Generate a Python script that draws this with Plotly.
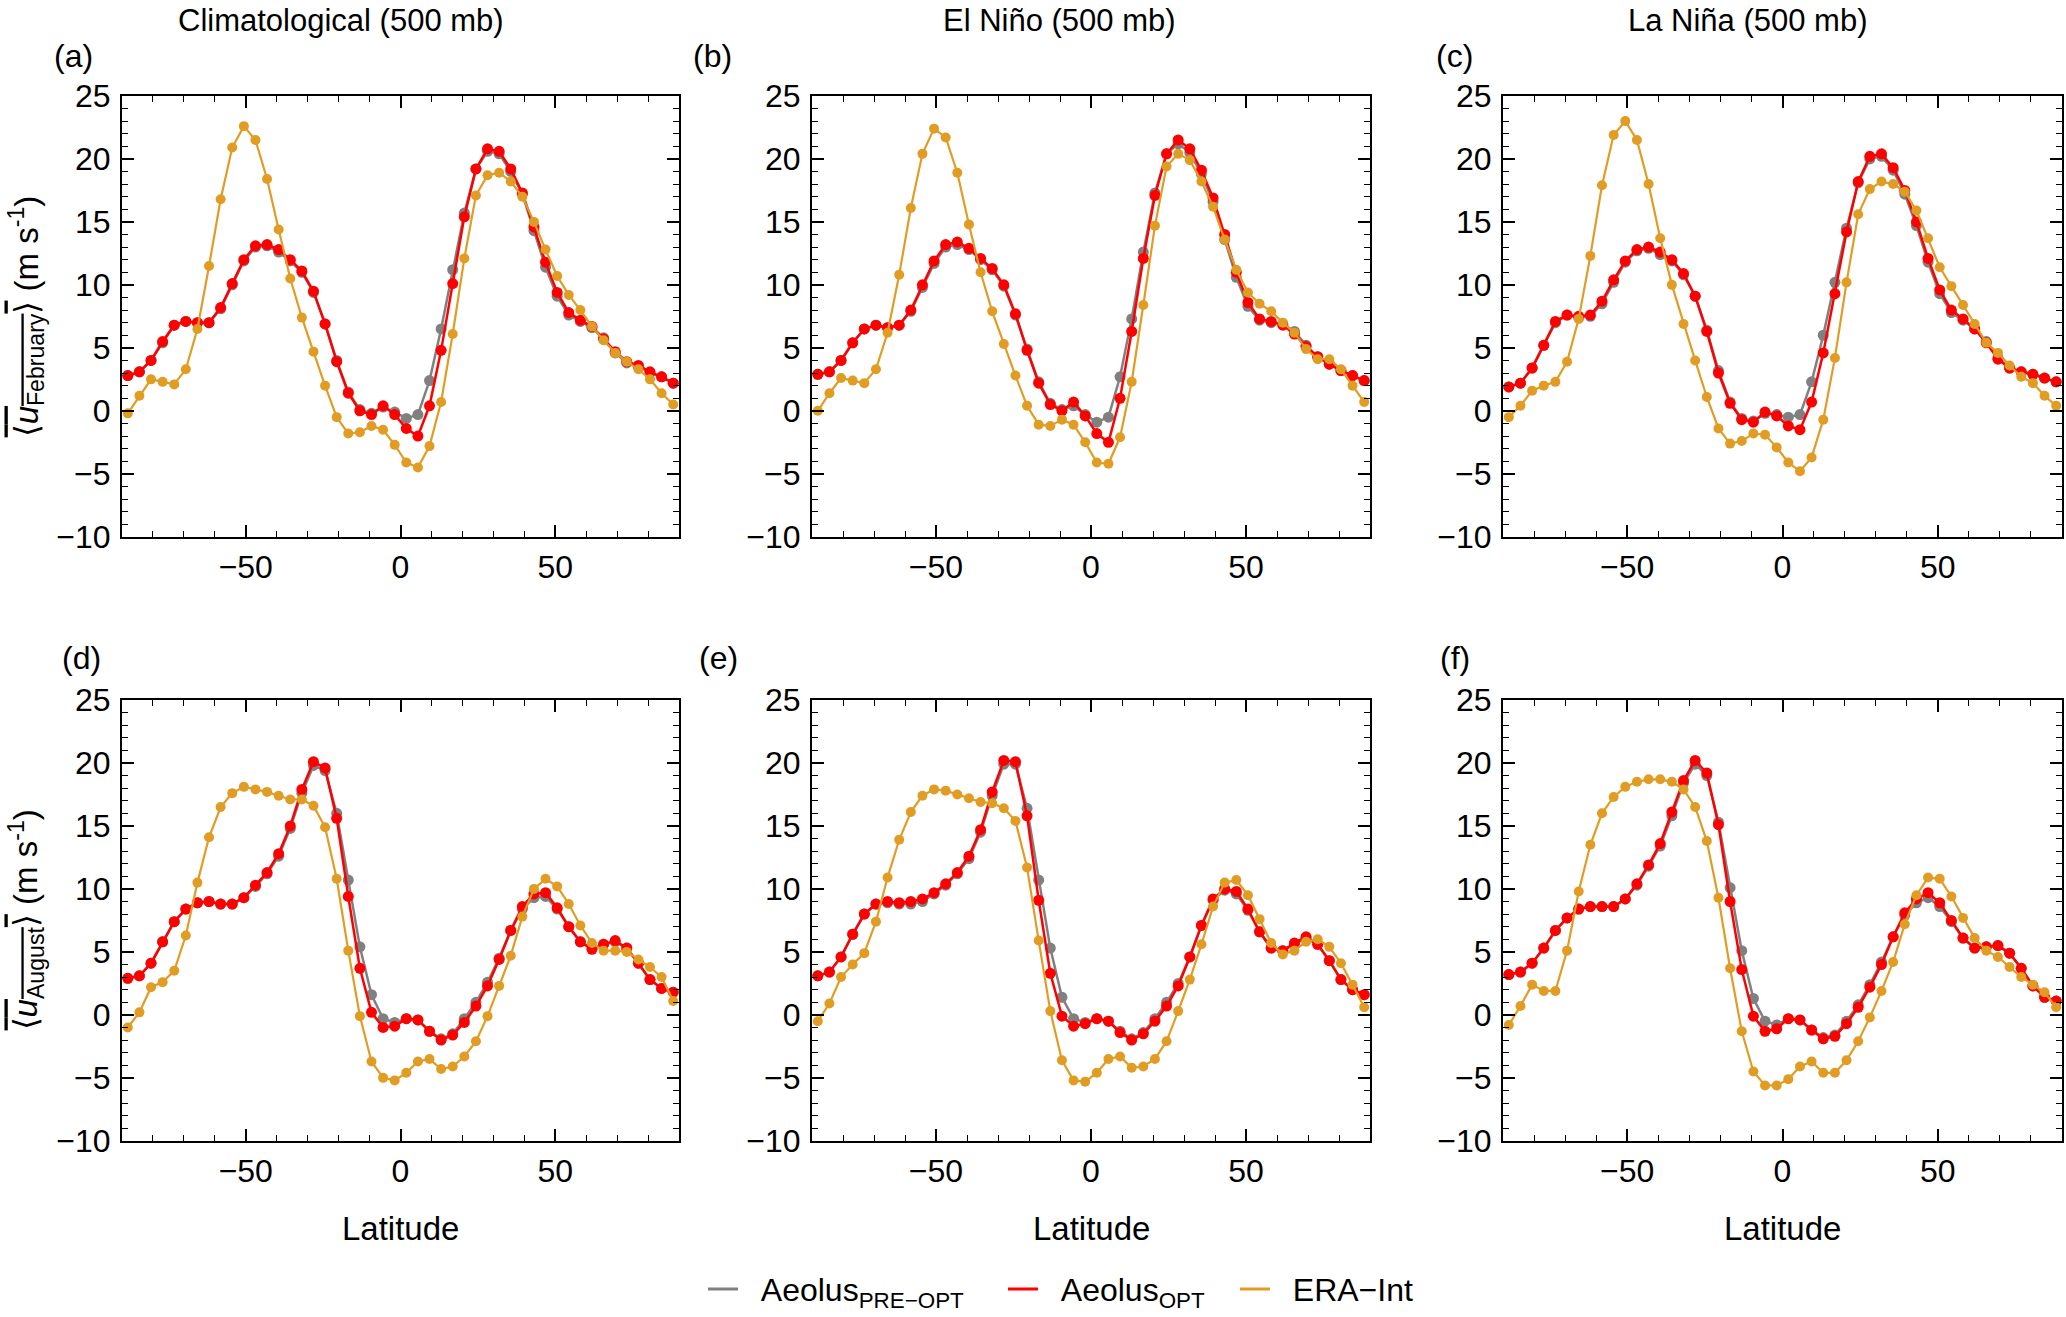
import plotly.graph_objects as go
from plotly.subplots import make_subplots

# latitude grid (deg)
lat = [-88.125, -84.375, -80.625, -76.875, -73.125, -69.375, -65.625, -61.875,
       -58.125, -54.375, -50.625, -46.875, -43.125, -39.375, -35.625, -31.875,
       -28.125, -24.375, -20.625, -16.875, -13.125, -9.375, -5.625, -1.875,
       1.875, 5.625, 9.375, 13.125, 16.875, 20.625, 24.375, 28.125,
       31.875, 35.625, 39.375, 43.125, 46.875, 50.625, 54.375, 58.125,
       61.875, 65.625, 69.375, 73.125, 76.875, 80.625, 84.375, 88.125]

# (a) February, climatological
feb_clim_pre = [2.8, 3.1, 4.0, 5.4, 6.8, 7.1, 7.0, 7.0, 8.1, 10.0, 11.9, 13.0, 13.1, 12.6, 11.9, 11.0,
                9.4, 6.9, 4.0, 1.5, 0.1, -0.2, 0.3, -0.1, -0.6, -0.3, 2.4, 6.5, 11.2, 15.7, 19.2, 20.6,
                20.4, 19.0, 17.2, 14.3, 11.4, 9.1, 7.6, 7.1, 6.6, 5.8, 4.6, 3.8, 3.5, 3.0, 2.7, 2.2]
feb_clim_opt = [2.8, 3.1, 4.0, 5.5, 6.8, 7.1, 7.0, 7.0, 8.2, 10.1, 12.0, 13.1, 13.2, 12.8, 12.0, 11.1,
                9.5, 6.9, 3.9, 1.4, 0.0, -0.3, 0.4, -0.3, -1.4, -2.0, 0.4, 4.8, 10.1, 15.4, 19.2, 20.8,
                20.6, 19.2, 17.3, 14.6, 11.8, 9.4, 7.8, 7.2, 6.7, 5.7, 4.7, 3.9, 3.6, 3.1, 2.7, 2.2]
feb_clim_era = [-0.2, 1.2, 2.5, 2.3, 2.1, 3.3, 6.5, 11.5, 16.8, 20.9, 22.6, 21.5, 18.4, 14.4, 10.5, 7.4,
                4.7, 2.0, -0.5, -1.8, -1.7, -1.2, -1.5, -2.7, -4.1, -4.5, -2.8, 0.7, 6.1, 12.1, 17.1, 18.7,
                18.9, 18.2, 17.0, 15.0, 12.8, 10.7, 9.2, 8.0, 6.7, 5.6, 4.6, 3.9, 3.3, 2.5, 1.4, 0.5]

# (b) February, El Nino
feb_nino_pre = [2.9, 3.1, 4.0, 5.4, 6.5, 6.8, 6.6, 6.8, 7.9, 9.8, 11.7, 13.0, 13.2, 12.8, 12.0, 11.2,
                9.9, 7.6, 4.9, 2.3, 0.6, 0.1, 0.4, -0.3, -0.9, -0.5, 2.7, 7.3, 12.6, 17.3, 20.4, 21.2,
                20.5, 18.8, 16.6, 13.6, 10.6, 8.3, 7.2, 7.0, 6.9, 6.3, 5.2, 4.3, 3.7, 3.2, 2.8, 2.4]
feb_nino_opt = [2.9, 3.1, 4.0, 5.4, 6.5, 6.8, 6.6, 6.8, 8.0, 10.0, 11.9, 13.2, 13.4, 12.9, 12.1, 11.3,
                10.0, 7.7, 4.8, 2.2, 0.5, 0.0, 0.7, -0.4, -1.8, -2.5, 1.0, 6.3, 12.1, 17.1, 20.4, 21.5,
                20.8, 19.1, 16.9, 14.0, 11.0, 8.6, 7.3, 7.1, 6.8, 6.1, 5.1, 4.3, 3.7, 3.2, 2.8, 2.4]
feb_nino_era = [0.0, 1.4, 2.6, 2.4, 2.2, 3.3, 6.2, 10.8, 16.1, 20.4, 22.4, 21.7, 18.9, 14.8, 11.0, 7.9,
                5.3, 2.8, 0.4, -1.1, -1.2, -0.7, -1.1, -2.5, -4.1, -4.2, -2.1, 2.3, 8.4, 14.7, 19.4, 20.4,
                19.9, 18.2, 16.2, 13.6, 11.2, 9.4, 8.5, 7.9, 7.0, 6.2, 4.9, 4.1, 4.1, 3.3, 2.0, 0.7]

# (c) February, La Nina
feb_nina_pre = [1.9, 2.2, 3.4, 5.2, 7.0, 7.6, 7.4, 7.5, 8.5, 10.2, 11.8, 12.7, 12.9, 12.4, 11.9, 10.8,
                9.1, 6.4, 3.2, 0.7, -0.6, -0.8, -0.2, -0.3, -0.5, -0.3, 2.3, 6.0, 10.2, 14.5, 18.1, 20.0,
                20.2, 19.1, 17.2, 14.7, 11.8, 9.3, 7.8, 7.2, 6.5, 5.5, 4.2, 3.4, 3.1, 2.9, 2.6, 2.3]
feb_nina_opt = [1.9, 2.2, 3.4, 5.2, 7.1, 7.6, 7.5, 7.6, 8.7, 10.4, 11.9, 12.8, 13.0, 12.6, 12.0, 10.9,
                9.1, 6.3, 3.0, 0.6, -0.7, -0.9, -0.1, -0.4, -1.2, -1.5, 0.7, 4.6, 9.3, 14.2, 18.2, 20.2,
                20.4, 19.3, 17.5, 15.0, 12.1, 9.6, 8.0, 7.3, 6.5, 5.4, 4.1, 3.4, 3.1, 2.9, 2.6, 2.3]
feb_nina_era = [-0.5, 0.4, 1.6, 2.0, 2.3, 3.9, 7.3, 12.3, 17.9, 21.9, 23.0, 21.5, 18.0, 13.7, 10.0, 6.9,
                4.0, 1.1, -1.4, -2.6, -2.4, -1.8, -1.9, -2.9, -4.1, -4.8, -3.7, -0.7, 4.2, 10.2, 15.6, 17.6,
                18.2, 18.0, 17.4, 15.9, 13.7, 11.4, 9.9, 8.4, 6.9, 5.4, 4.6, 3.6, 2.7, 2.2, 1.2, 0.4]

# (d) August, climatological
aug_clim_pre = [2.9, 3.1, 4.1, 5.8, 7.4, 8.4, 8.9, 9.0, 8.8, 8.8, 9.3, 10.2, 11.2, 12.6, 14.8, 17.6,
                19.8, 19.4, 16.0, 10.7, 5.4, 1.6, -0.3, -0.6, -0.3, -0.4, -1.3, -1.9, -1.5, -0.3, 1.0, 2.6,
                4.5, 6.7, 8.4, 9.3, 9.4, 8.4, 7.0, 5.8, 5.3, 5.6, 5.8, 5.3, 4.1, 2.8, 2.1, 1.8]
aug_clim_opt = [2.9, 3.1, 4.1, 5.8, 7.4, 8.4, 8.9, 9.0, 8.8, 8.8, 9.3, 10.3, 11.3, 12.8, 15.0, 17.9,
                20.1, 19.6, 15.6, 9.4, 3.7, 0.2, -1.0, -0.9, -0.3, -0.4, -1.3, -2.0, -1.6, -0.6, 0.7, 2.3,
                4.4, 6.7, 8.6, 9.6, 9.7, 8.5, 7.0, 5.8, 5.2, 5.6, 5.9, 5.3, 4.1, 2.8, 2.1, 1.8]
aug_clim_era = [-1.0, 0.2, 2.2, 2.6, 3.5, 6.3, 10.5, 14.1, 16.5, 17.6, 18.1, 17.9, 17.7, 17.4, 17.1, 17.1,
                16.6, 14.9, 10.8, 5.1, -0.1, -3.7, -5.0, -5.2, -4.6, -3.7, -3.5, -4.3, -4.1, -3.3, -2.1, -0.1,
                2.3, 4.7, 7.8, 10.0, 10.8, 10.2, 8.8, 7.1, 5.7, 5.1, 5.1, 5.0, 4.4, 3.8, 3.0, 1.1]

# (e) August, El Nino
aug_nino_pre = [3.1, 3.4, 4.6, 6.4, 8.0, 8.8, 8.9, 8.8, 8.8, 9.0, 9.6, 10.3, 11.2, 12.4, 14.5, 17.4,
                19.9, 19.9, 16.4, 10.7, 5.3, 1.4, -0.3, -0.6, -0.3, -0.5, -1.3, -1.9, -1.4, -0.3, 1.0, 2.5,
                4.6, 7.1, 9.1, 9.9, 9.6, 8.3, 6.6, 5.3, 5.1, 5.6, 6.1, 5.6, 4.3, 2.8, 2.0, 1.6]
aug_nino_opt = [3.1, 3.4, 4.6, 6.4, 8.0, 8.8, 9.0, 8.9, 9.0, 9.2, 9.7, 10.4, 11.3, 12.6, 14.7, 17.7,
                20.2, 20.1, 15.8, 9.1, 3.3, -0.1, -0.9, -0.7, -0.3, -0.5, -1.4, -2.0, -1.5, -0.5, 0.7, 2.3,
                4.6, 7.1, 9.2, 10.0, 9.8, 8.4, 6.6, 5.3, 5.1, 5.7, 6.2, 5.6, 4.3, 2.8, 2.0, 1.6]
aug_nino_era = [-0.5, 0.9, 3.0, 4.0, 4.9, 7.4, 10.9, 13.9, 16.1, 17.4, 17.9, 17.8, 17.5, 17.2, 16.9, 16.8,
                16.4, 15.4, 11.7, 5.9, 0.3, -3.6, -5.2, -5.3, -4.6, -3.5, -3.3, -4.2, -4.1, -3.5, -2.1, 0.3,
                2.8, 5.6, 8.6, 10.5, 10.7, 9.5, 7.6, 5.7, 4.8, 5.1, 5.8, 6.0, 5.4, 4.1, 2.4, 0.6]

# (f) August, La Nina
aug_nina_pre = [3.2, 3.4, 4.1, 5.3, 6.7, 7.7, 8.4, 8.6, 8.6, 8.6, 9.2, 10.3, 11.8, 13.4, 15.8, 18.4,
                19.9, 19.0, 15.3, 10.1, 5.1, 1.3, -0.5, -0.8, -0.3, -0.4, -1.2, -1.8, -1.6, -0.5, 0.8, 2.4,
                4.2, 6.2, 7.9, 8.9, 9.3, 8.6, 7.4, 6.1, 5.3, 5.4, 5.5, 4.9, 3.7, 2.3, 1.4, 1.1]
aug_nina_opt = [3.2, 3.4, 4.1, 5.3, 6.7, 7.7, 8.4, 8.6, 8.6, 8.6, 9.2, 10.4, 11.9, 13.6, 16.1, 18.6,
                20.2, 19.2, 15.1, 9.0, 3.6, -0.1, -1.3, -1.1, -0.3, -0.4, -1.2, -1.9, -1.7, -0.7, 0.6, 2.2,
                4.0, 6.2, 8.1, 9.2, 9.7, 8.9, 7.5, 6.1, 5.3, 5.4, 5.5, 4.9, 3.7, 2.3, 1.4, 1.1]
aug_nina_era = [-0.8, 0.7, 2.4, 1.9, 1.9, 5.1, 9.8, 13.5, 16.0, 17.3, 18.1, 18.5, 18.7, 18.7, 18.5, 17.9,
                16.5, 13.8, 9.3, 3.7, -1.3, -4.5, -5.6, -5.6, -5.1, -4.1, -3.7, -4.6, -4.6, -3.6, -2.1, -0.2,
                1.9, 4.2, 7.2, 9.5, 10.9, 10.8, 9.4, 7.7, 6.1, 5.1, 4.6, 3.8, 3.0, 2.4, 1.8, 0.6]

col_titles = ["Climatological (500 mb)", "El Niño (500 mb)", "La Niña (500 mb)"]
panel_tags = ["(a)", "(b)", "(c)", "(d)", "(e)", "(f)"]
series_names = ["Aeolus<sub>PRE−OPT</sub>", "Aeolus<sub>OPT</sub>", "ERA−Int"]

panels = [
    (feb_clim_pre, feb_clim_opt, feb_clim_era),
    (feb_nino_pre, feb_nino_opt, feb_nino_era),
    (feb_nina_pre, feb_nina_opt, feb_nina_era),
    (aug_clim_pre, aug_clim_opt, aug_clim_era),
    (aug_nino_pre, aug_nino_opt, aug_nino_era),
    (aug_nina_pre, aug_nina_opt, aug_nina_era),
]

GRAY = "#808080"
RED = "#FF0000"
ORANGE = "#E19C24"
colors = [GRAY, RED, ORANGE]
msize = [11, 11, 10]
lwidth = [2.5, 2.5, 2.2]

W, H = 2066, 1317
FONT = "Liberation Sans, Arial, sans-serif"

# panel frames in pixels
col_px = [(122, 679), (812, 1370), (1503, 2062)]
row_px = [(97, 543), (708, 1154)]

fig = make_subplots(rows=2, cols=3)

for i, series in enumerate(panels):
    r, c = i // 3 + 1, i % 3 + 1
    for j, vals in enumerate(series):
        fig.add_trace(go.Scatter(x=lat, y=vals, mode="lines+markers",
                                 line=dict(color=colors[j], width=lwidth[j]),
                                 marker=dict(color=colors[j], size=msize[j]),
                                 showlegend=False, hoverinfo="skip"),
                      row=r, col=c)

# legend entries (line only, like the original), one legend box each
legend_ids = ["legend", "legend2", "legend3"]
legend_left = [703, 1003, 1235]
for j in range(3):
    fig.add_trace(go.Scatter(x=[None], y=[None], mode="lines",
                             name="\u00a0\u00a0" + series_names[j],
                             line=dict(color=colors[j], width=3),
                             showlegend=True, legend=legend_ids[j]),
                  row=2, col=2)

for i in range(6):
    r, c = i // 3, i % 3
    x0, x1 = col_px[c]
    y0, y1 = row_px[r]
    fig.update_xaxes(domain=[x0 / W, x1 / W], row=r + 1, col=c + 1)
    fig.update_yaxes(domain=[1 - y1 / H, 1 - y0 / H], row=r + 1, col=c + 1)

common = dict(showline=True, linecolor="black", linewidth=2, mirror="ticks",
              ticks="inside", ticklen=12, tickwidth=1.5, tickcolor="black",
              showgrid=False, zeroline=False, automargin=False,
              tickfont=dict(family=FONT, size=32, color="black"))
fig.update_xaxes(range=[-90, 90], tickvals=[-50, 0, 50], ticklabelstandoff=1,
                 minor=dict(dtick=10, tick0=0, ticks="inside", ticklen=6,
                            tickwidth=1.2, tickcolor="black", showgrid=False),
                 **common)
fig.update_yaxes(range=[-10, 25], dtick=5, tick0=0, ticklabelstandoff=3,
                 minor=dict(dtick=1, tick0=0, ticks="inside", ticklen=6,
                            tickwidth=1.2, tickcolor="black", showgrid=False),
                 **common)

ann = []
title_x = [341, 1059, 1748]
for c in range(3):
    ann.append(dict(text=col_titles[c], x=title_x[c] / W, y=1 - 21 / H,
                    xanchor="center", yanchor="middle", font=dict(size=31)))
tag_x = [52, 691, 1434, 60, 697, 1438]
tag_y = [57, 57, 57, 666, 666, 666]
for i in range(6):
    ann.append(dict(text=panel_tags[i], x=tag_x[i] / W, y=1 - tag_y[i] / H,
                    xanchor="left", yanchor="middle", font=dict(size=32)))
for c in range(3):
    x0, x1 = col_px[c]
    ann.append(dict(text="Latitude", x=(x0 + x1) / 2 / W, y=1 - 1243 / H,
                    xanchor="center", yanchor="middle", font=dict(size=33)))
ylabels = ["February", "August"]
for r in range(2):
    y0, y1 = row_px[r]
    ann.append(dict(text='<span style="text-decoration:overline">⟨<i>u</i><sub>'
                         + ylabels[r] + '</sub>⟩</span> (m s<sup>-1</sup>)',
                    x=26 / W, y=1 - (y0 + y1) / 2 / H, textangle=-90,
                    xanchor="center", yanchor="middle", font=dict(size=33)))
for a in ann:
    a.update(xref="paper", yref="paper", showarrow=False)
    a["font"].update(family=FONT, color="black")

leg_style = dict(orientation="h", xanchor="left", y=1 - 1304 / H, yanchor="middle",
                 font=dict(family=FONT, size=32, color="black"),
                 bgcolor="rgba(0,0,0,0)", borderwidth=0)
fig.update_layout(width=W, height=H, autosize=False,
                  margin=dict(l=0, r=0, t=0, b=0),
                  paper_bgcolor="white", plot_bgcolor="white",
                  font=dict(family=FONT, color="black"),
                  annotations=ann,
                  legend=dict(x=legend_left[0] / W, **leg_style),
                  legend2=dict(x=legend_left[1] / W, **leg_style),
                  legend3=dict(x=legend_left[2] / W, **leg_style))

# drop the browser's default page margin so the figure sits at (0, 0)
fig.write_html("out.html", config={"displayModeBar": False},
               post_script="document.body.style.margin='0';")
